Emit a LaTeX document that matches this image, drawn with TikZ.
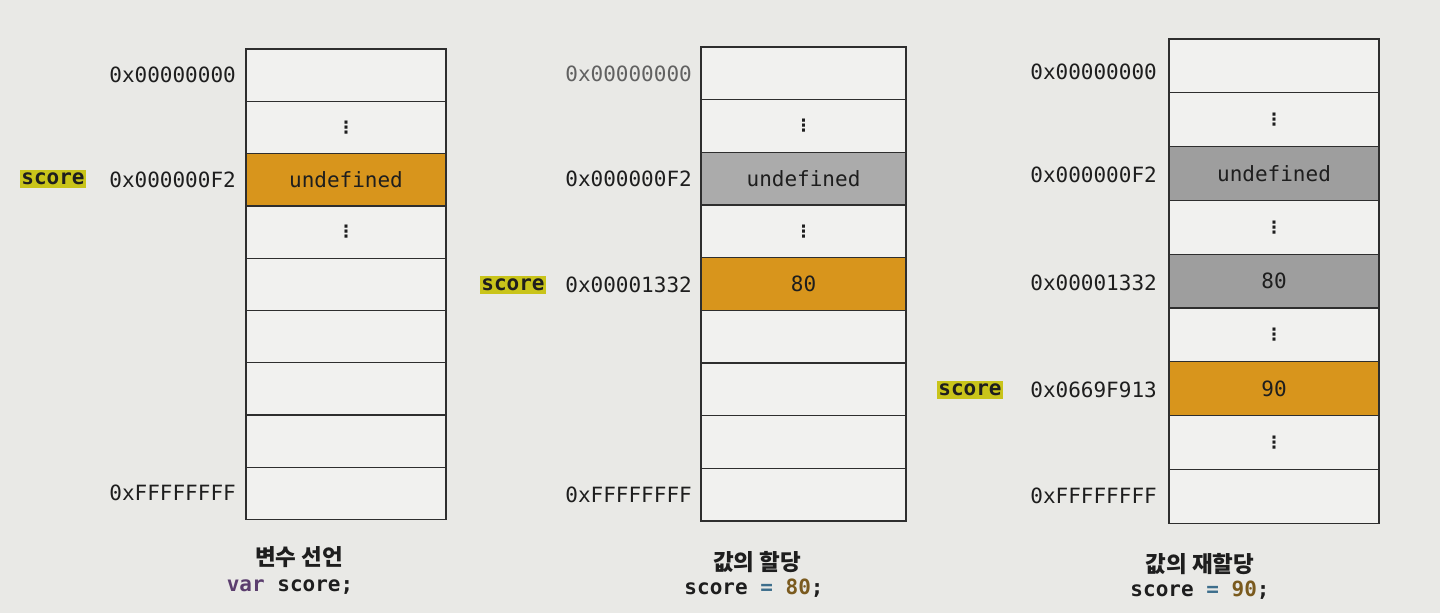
\documentclass[tikz,border=0pt]{standalone}
\usepackage{fontspec}
\newfontfamily\monof{DejaVu Sans Mono}
\newfontfamily\symf{DejaVu Sans}
\newfontfamily\krf{Noto Sans CJK KR}
\definecolor{pagebg}{HTML}{E9E9E6}
\definecolor{cellbg}{HTML}{F1F1EF}
\definecolor{orangefill}{HTML}{D8951C}
\definecolor{grayA}{HTML}{ABABAB}
\definecolor{grayB}{HTML}{9E9E9E}
\definecolor{hlyellow}{HTML}{C9C41A}
\definecolor{linecol}{HTML}{2E2E2E}
\definecolor{textcol}{HTML}{1E1E1E}
\definecolor{kwpurple}{HTML}{5B3E6E}
\definecolor{opblue}{HTML}{3D6E8C}
\definecolor{numbrown}{HTML}{7A5A1E}
\tikzset{
  cell/.style={draw=linecol, line width=1.3pt, inner sep=0pt, fill=cellbg,
    font=\monof\fontsize{21}{25}\selectfont, text=textcol},
  orangecell/.style={fill=orangefill},
  graycellA/.style={fill=grayA},
  graycellB/.style={fill=grayB},
  addr/.style={anchor=east, inner sep=0pt, font=\monof\fontsize{21}{25}\selectfont, text=textcol},
  varlab/.style={fill=hlyellow, inner xsep=1.5pt, inner ysep=3pt, font=\monof\bfseries\fontsize{21}{25}\selectfont, text=textcol},
  vdots/.style={inner sep=0pt, font=\symf\bfseries\fontsize{17}{19}\selectfont, text=textcol},
  captitle/.style={inner sep=0pt, font=\krf\bfseries\fontsize{22.5}{26}\selectfont, text=textcol},
  capcode/.style={inner sep=0pt, font=\monof\bfseries\fontsize{21}{25}\selectfont, text=textcol},
}
\begin{document}
\begin{tikzpicture}[x=1pt,y=-1pt]
\fill[pagebg] (0,0) rectangle (1440,613);
\useasboundingbox (0,0) rectangle (1440,613);

% ---------- column 1 : variable declaration ----------
\foreach \i in {0,...,8}{
  \node[cell, minimum width=200pt, minimum height=52.3pt] (a\i) at (346,{49+52.3*(\i+0.5)}) {};
}
\node[cell, orangecell, minimum width=200pt, minimum height=52.3pt] at (a2) {undefined};
\node[vdots] (ad1) at (a1) {⋮};
\node[vdots] (ad3) at (a3) {⋮};
\node[addr] (aa0) at (236,75) {0x00000000};
\node[addr] (aa2) at (236,180) {0x000000F2};
\node[addr] (aa8) at (236,493) {0xFFFFFFFF};
\node[varlab] (av) at (53,179) {score};
\node[captitle] (at) at (299,557) {변수 선언};
\node[capcode] (ac) at (290,587) {\textcolor{kwpurple}{var} score;};

% ---------- column 2 : value assignment ----------
\foreach \i in {0,...,8}{
  \node[cell, minimum width=205pt, minimum height=52.67pt] (b\i) at (803.5,{47+52.67*(\i+0.5)}) {};
}
\node[cell, graycellA, minimum width=205pt, minimum height=52.67pt] at (b2) {undefined};
\node[cell, orangecell, minimum width=205pt, minimum height=52.67pt] at (b4) {80};
\node[vdots] (bd1) at (b1) {⋮};
\node[vdots] (bd3) at (b3) {⋮};
\node[addr, text=textcol!70] (ba0) at (692,74) {0x00000000};
\node[addr] (ba2) at (692,179) {0x000000F2};
\node[addr] (ba4) at (692,285) {0x00001332};
\node[addr] (ba8) at (692,495) {0xFFFFFFFF};
\node[varlab] (bv) at (513,285) {score};
\node[captitle] (bt) at (757,562) {값의 할당};
\node[capcode] (bc) at (754,588) {score \textcolor{opblue}{=} \textcolor{numbrown}{80};};

% ---------- column 3 : value reassignment ----------
\foreach \i in {0,...,8}{
  \node[cell, minimum width=210pt, minimum height=53.8pt] (c\i) at (1274,{39+53.8*(\i+0.5)}) {};
}
\node[cell, graycellB, minimum width=210pt, minimum height=53.8pt] at (c2) {undefined};
\node[cell, graycellB, minimum width=210pt, minimum height=53.8pt] at (c4) {80};
\node[cell, orangecell, minimum width=210pt, minimum height=53.8pt] at (c6) {90};
\node[vdots] (cd1) at (c1) {⋮};
\node[vdots] (cd3) at (c3) {⋮};
\node[vdots] (cd5) at (c5) {⋮};
\node[vdots] (cd7) at (c7) {⋮};
\node[addr] (ca0) at (1157,72) {0x00000000};
\node[addr] (ca2) at (1157,175) {0x000000F2};
\node[addr] (ca4) at (1157,283) {0x00001332};
\node[addr] (ca6) at (1157,390) {0x0669F913};
\node[addr] (ca8) at (1157,496) {0xFFFFFFFF};
\node[varlab] (cv) at (970,390) {score};
\node[captitle] (ct) at (1200,564) {값의 재할당};
\node[capcode] (cc) at (1200,590) {score \textcolor{opblue}{=} \textcolor{numbrown}{90};};
\end{tikzpicture}
\end{document}
